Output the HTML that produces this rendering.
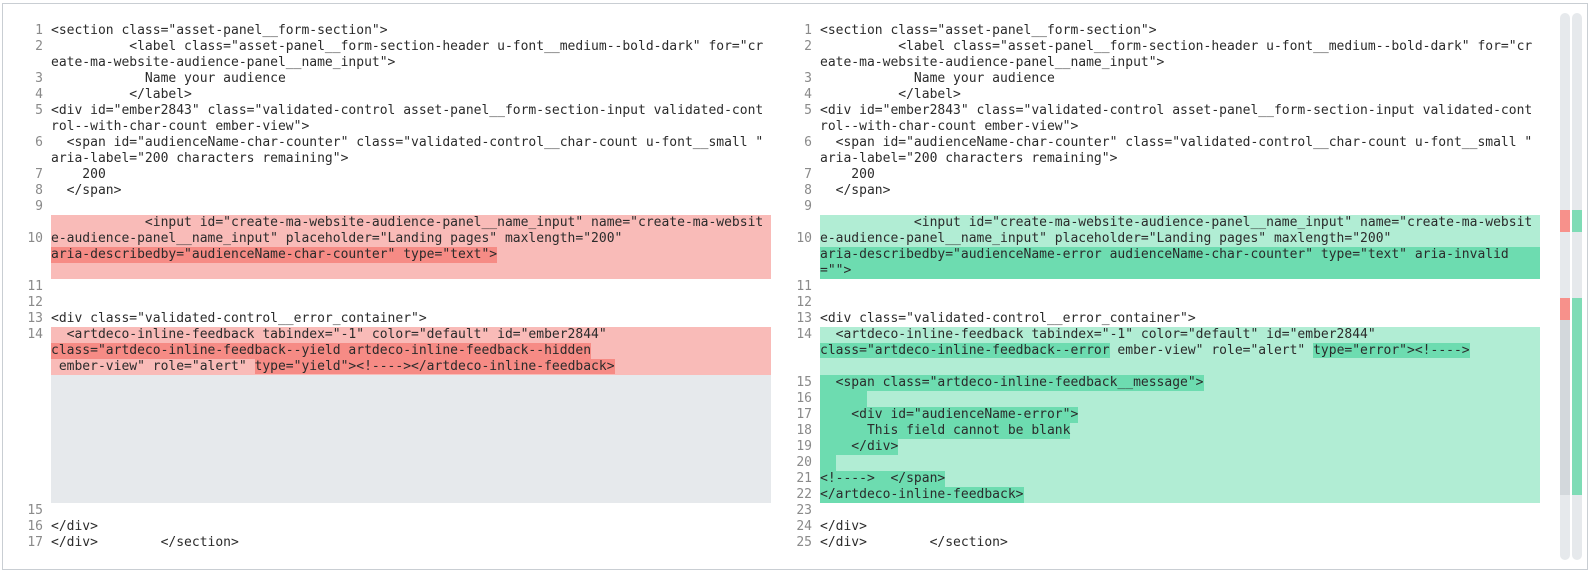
<!DOCTYPE html>
<html><head><meta charset="utf-8"><style>
html,body{margin:0;padding:0;background:#fff;}
body{width:1594px;height:575px;position:relative;overflow:hidden;font-family:"DejaVu Sans Mono","Liberation Mono",monospace;font-size:13px;color:#2b2b2b;}
.frame{position:absolute;left:2px;top:3px;width:1586px;height:567px;border:1px solid #c9ced3;box-sizing:border-box;}
.r{position:absolute;height:16px;line-height:16px;white-space:pre;}
.n{position:absolute;height:16px;line-height:16px;text-align:right;width:30px;color:#8a8a8a;}
.lr{background:#f9bbb8;}
.dr{background:#f68b85;}
.lg{background:#b1edd4;}
.dg{background:#6ddcb0;}
.gy{background:#e6e9ec;}
.bar{position:absolute;width:10px;border-radius:5px;background:#e6e9ec;top:13px;height:547px;overflow:hidden;}
.bar div{position:absolute;left:0;width:10px;}
</style></head><body>
<div class="frame"></div>

<!-- LEFT panel -->
<div class="n" style="left:13px;top:23px">1</div><div class="r" style="left:51px;top:23px">&lt;section class="asset-panel__form-section"&gt;</div>
<div class="n" style="left:13px;top:39px">2</div><div class="r" style="left:51px;top:39px">          &lt;label class="asset-panel__form-section-header u-font__medium--bold-dark" for="cr</div>
<div class="r" style="left:51px;top:55px">eate-ma-website-audience-panel__name_input"&gt;</div>
<div class="n" style="left:13px;top:71px">3</div><div class="r" style="left:51px;top:71px">            Name your audience</div>
<div class="n" style="left:13px;top:87px">4</div><div class="r" style="left:51px;top:87px">          &lt;/label&gt;</div>
<div class="n" style="left:13px;top:103px">5</div><div class="r" style="left:51px;top:103px">&lt;div id="ember2843" class="validated-control asset-panel__form-section-input validated-cont</div>
<div class="r" style="left:51px;top:119px">rol--with-char-count ember-view"&gt;</div>
<div class="n" style="left:13px;top:135px">6</div><div class="r" style="left:51px;top:135px">  &lt;span id="audienceName-char-counter" class="validated-control__char-count u-font__small "</div>
<div class="r" style="left:51px;top:151px">aria-label="200 characters remaining"&gt;</div>
<div class="n" style="left:13px;top:167px">7</div><div class="r" style="left:51px;top:167px">    200</div>
<div class="n" style="left:13px;top:183px">8</div><div class="r" style="left:51px;top:183px">  &lt;/span&gt;</div>
<div class="n" style="left:13px;top:199px">9</div>
<div class="lr" style="position:absolute;left:51px;top:215px;width:720px;height:64px"></div>
<div class="n" style="left:13px;top:231px">10</div>
<div class="r" style="left:51px;top:215px">            &lt;input id="create-ma-website-audience-panel__name_input" name="create-ma-websit</div>
<div class="r" style="left:51px;top:231px">e-audience-panel__name_input" placeholder="Landing pages" maxlength="200"</div>
<div class="r dr" style="left:51px;top:247px">aria-describedby="audienceName-char-counter" type="text"&gt;</div>
<div class="n" style="left:13px;top:279px">11</div>
<div class="n" style="left:13px;top:295px">12</div>
<div class="n" style="left:13px;top:311px">13</div><div class="r" style="left:51px;top:311px">&lt;div class="validated-control__error_container"&gt;</div>
<div class="lr" style="position:absolute;left:51px;top:327px;width:720px;height:48px"></div>
<div class="n" style="left:13px;top:327px">14</div>
<div class="r" style="left:51px;top:327px">  &lt;artdeco-inline-feedback tabindex="-1" color="default" id="ember2844"</div>
<div class="r dr" style="left:51px;top:343px">class="artdeco-inline-feedback--yield artdeco-inline-feedback--hidden</div>
<div class="r" style="left:51px;top:359px"> ember-view" role="alert" <span class="dr">type="yield"&gt;&lt;!----&gt;&lt;/artdeco-inline-feedback&gt;</span></div>
<div class="gy" style="position:absolute;left:51px;top:375px;width:720px;height:128px"></div>
<div class="n" style="left:13px;top:503px">15</div>
<div class="n" style="left:13px;top:519px">16</div><div class="r" style="left:51px;top:519px">&lt;/div&gt;</div>
<div class="n" style="left:13px;top:535px">17</div><div class="r" style="left:51px;top:535px">&lt;/div&gt;        &lt;/section&gt;</div>

<!-- RIGHT panel -->
<div class="n" style="left:782px;top:23px">1</div><div class="r" style="left:820px;top:23px">&lt;section class="asset-panel__form-section"&gt;</div>
<div class="n" style="left:782px;top:39px">2</div><div class="r" style="left:820px;top:39px">          &lt;label class="asset-panel__form-section-header u-font__medium--bold-dark" for="cr</div>
<div class="r" style="left:820px;top:55px">eate-ma-website-audience-panel__name_input"&gt;</div>
<div class="n" style="left:782px;top:71px">3</div><div class="r" style="left:820px;top:71px">            Name your audience</div>
<div class="n" style="left:782px;top:87px">4</div><div class="r" style="left:820px;top:87px">          &lt;/label&gt;</div>
<div class="n" style="left:782px;top:103px">5</div><div class="r" style="left:820px;top:103px">&lt;div id="ember2843" class="validated-control asset-panel__form-section-input validated-cont</div>
<div class="r" style="left:820px;top:119px">rol--with-char-count ember-view"&gt;</div>
<div class="n" style="left:782px;top:135px">6</div><div class="r" style="left:820px;top:135px">  &lt;span id="audienceName-char-counter" class="validated-control__char-count u-font__small "</div>
<div class="r" style="left:820px;top:151px">aria-label="200 characters remaining"&gt;</div>
<div class="n" style="left:782px;top:167px">7</div><div class="r" style="left:820px;top:167px">    200</div>
<div class="n" style="left:782px;top:183px">8</div><div class="r" style="left:820px;top:183px">  &lt;/span&gt;</div>
<div class="n" style="left:782px;top:199px">9</div>
<div class="lg" style="position:absolute;left:820px;top:215px;width:720px;height:32px"></div>
<div class="dg" style="position:absolute;left:820px;top:247px;width:720px;height:32px"></div>
<div class="n" style="left:782px;top:231px">10</div>
<div class="r" style="left:820px;top:215px">            &lt;input id="create-ma-website-audience-panel__name_input" name="create-ma-websit</div>
<div class="r" style="left:820px;top:231px">e-audience-panel__name_input" placeholder="Landing pages" maxlength="200"</div>
<div class="r" style="left:820px;top:247px">aria-describedby="audienceName-error audienceName-char-counter" type="text" aria-invalid</div>
<div class="r" style="left:820px;top:263px">=""&gt;</div>
<div class="n" style="left:782px;top:279px">11</div>
<div class="n" style="left:782px;top:295px">12</div>
<div class="n" style="left:782px;top:311px">13</div><div class="r" style="left:820px;top:311px">&lt;div class="validated-control__error_container"&gt;</div>
<div class="lg" style="position:absolute;left:820px;top:327px;width:720px;height:176px"></div>
<div class="n" style="left:782px;top:327px">14</div>
<div class="r" style="left:820px;top:327px">  &lt;artdeco-inline-feedback tabindex="-1" color="default" id="ember2844"</div>
<div class="r" style="left:820px;top:343px"><span class="dg">class="artdeco-inline-feedback--error</span> ember-view" role="alert" <span class="dg">type="error"&gt;&lt;!----&gt;</span></div>
<div class="n" style="left:782px;top:375px">15</div><div class="r dg" style="left:820px;top:375px">  &lt;span class="artdeco-inline-feedback__message"&gt;</div>
<div class="n" style="left:782px;top:391px">16</div><div class="r dg" style="left:820px;top:391px">      </div>
<div class="n" style="left:782px;top:407px">17</div><div class="r dg" style="left:820px;top:407px">    &lt;div id="audienceName-error"&gt;</div>
<div class="n" style="left:782px;top:423px">18</div><div class="r dg" style="left:820px;top:423px">      This field cannot be blank</div>
<div class="n" style="left:782px;top:439px">19</div><div class="r dg" style="left:820px;top:439px">    &lt;/div&gt;</div>
<div class="n" style="left:782px;top:455px">20</div><div class="r dg" style="left:820px;top:455px">  </div>
<div class="n" style="left:782px;top:471px">21</div><div class="r dg" style="left:820px;top:471px">&lt;!----&gt;  &lt;/span&gt;</div>
<div class="n" style="left:782px;top:487px">22</div><div class="r dg" style="left:820px;top:487px">&lt;/artdeco-inline-feedback&gt;</div>
<div class="n" style="left:782px;top:503px">23</div>
<div class="n" style="left:782px;top:519px">24</div><div class="r" style="left:820px;top:519px">&lt;/div&gt;</div>
<div class="n" style="left:782px;top:535px">25</div><div class="r" style="left:820px;top:535px">&lt;/div&gt;        &lt;/section&gt;</div>

<!-- scrollbars -->
<div class="bar" style="left:1560px">
  <div style="top:197px;height:22px;background:#f7918b"></div>
  <div style="top:285px;height:22px;background:#f7918b"></div>
  <div style="top:307px;height:175px;background:#d3d8dc"></div>
</div>
<div class="bar" style="left:1572px">
  <div style="top:197px;height:22px;background:#7fdcb6"></div>
  <div style="top:285px;height:197px;background:#7fdcb6"></div>
</div>
</body></html>
